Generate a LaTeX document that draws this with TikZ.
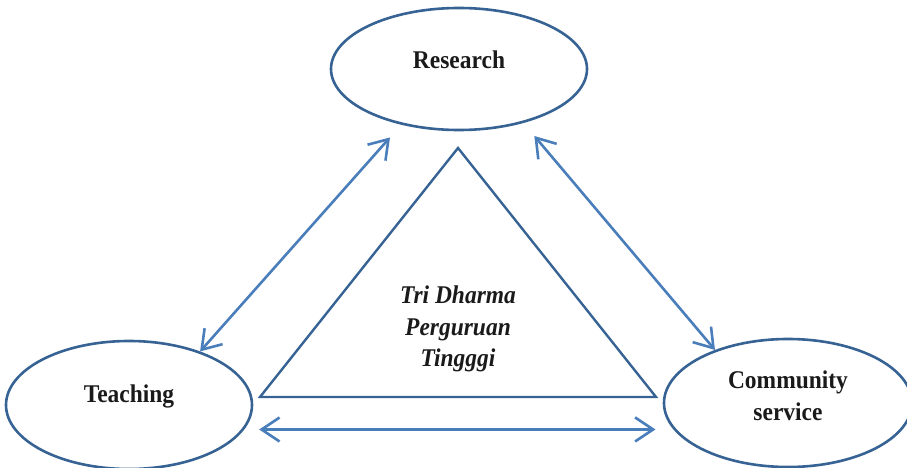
\documentclass[tikz,border=0pt]{standalone}
\usepackage{fontspec}
\setmainfont{Liberation Serif}[FakeStretch=0.92]
\usetikzlibrary{arrows.meta,shapes.geometric,positioning}
\definecolor{rim}{HTML}{376394}
\definecolor{link}{HTML}{4A7EBB}
\definecolor{ink}{HTML}{1A1A1A}

\begin{document}
\begin{tikzpicture}[x=1pt,y=-1pt,
  every node/.style={font=\fontsize{25.5}{32}\selectfont\bfseries,text=ink},
  place/.style={ellipse,draw=rim,line width=2.6pt,inner sep=0pt},
  lbl/.style={yshift=9pt,align=center},
  linkarrow/.style={draw=link,line width=2.6pt,{Straight Barb[length=18pt,width=24pt]}-{Straight Barb[length=18pt,width=24pt]}}]
\useasboundingbox (0,0) rectangle (907,468);
\node[place,minimum width=256pt,minimum height=122pt,label={[lbl]center:Research}] (research) at (459,69) {};
\node[place,minimum width=246pt,minimum height=128pt,label={[lbl]center:Teaching}] (teaching) at (129,405) {};
\node[place,minimum width=248pt,minimum height=128pt,label={[lbl,yshift=-2pt]center:{Community\\service}}] (community) at (788,403) {};
\draw[rim,line width=2.4pt,line join=miter] (458,148) -- (656,397) -- (260,397) -- cycle;
\node[align=center,font=\fontsize{25.5}{31.5}\selectfont\bfseries\itshape] (dharma) at (458,329) {Tri Dharma\\Perguruan\\Tingggi};
\draw[linkarrow,shorten <=17pt] (research.224) -- (teaching.37);
\draw[linkarrow,shorten <=17pt] (research.-40) -- (community.144.5);
\draw[linkarrow,shorten <=15pt,shorten >=18pt] (teaching.-12.5) -- (community.193.5);
\end{tikzpicture}
\end{document}
